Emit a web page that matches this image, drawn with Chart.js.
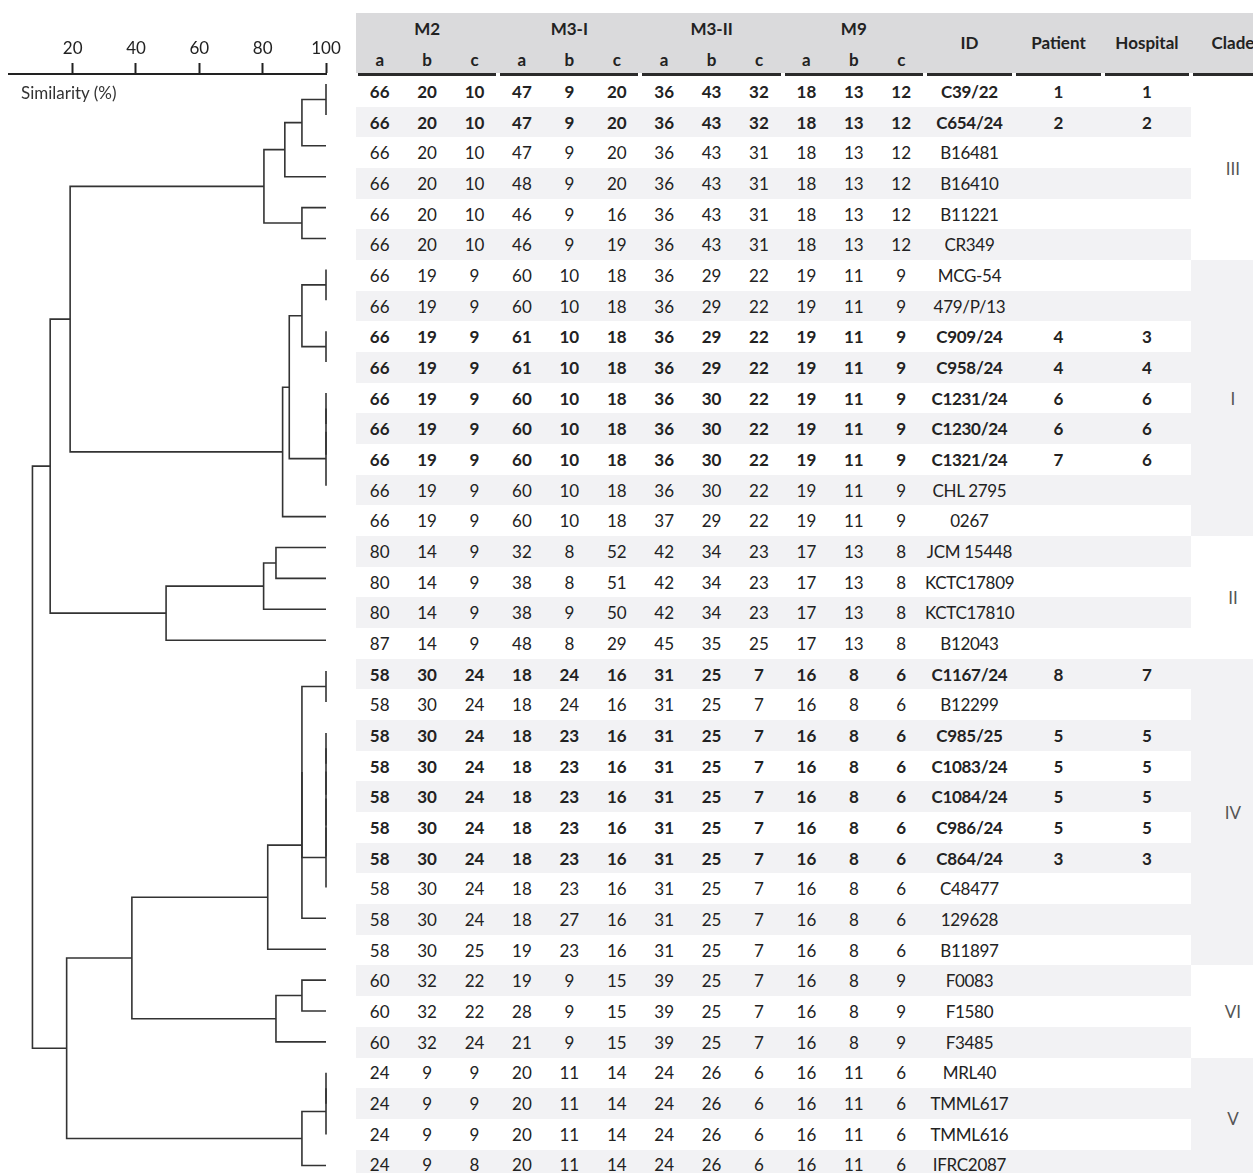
<!DOCTYPE html>
<html>
<head>
<meta charset="utf-8">
<script src="https://cdn.jsdelivr.net/npm/chart.js@4.4.1/dist/chart.umd.min.js"></script>
<style>
html, body { margin: 0; padding: 0; background: #fff; width: 1253px; height: 1173px; overflow: hidden; }
body { position: relative; font-family: Lato, "Open Sans", sans-serif; color: #222; }
#treeBox { position: absolute; left: 0; top: 0; width: 345px; height: 1173px; }
#simLabel { position: absolute; left: 21px; top: 82px; font-size: 17px; color: #333; }
#tbl { position: absolute; left: 356px; top: 12.5px; border-collapse: separate; border-spacing: 0;
       table-layout: fixed; width: 919px; font-size: 17px; }
#tbl th, #tbl td { padding: 0; text-align: center; white-space: nowrap; overflow: visible; }
#tbl thead th { background: #dadadc; font-weight: bold; }
#tbl tr.h1 { height: 31px; }
#tbl tr.h2 { height: 29.5px; }
#tbl tr.h2 th { padding-top: 2px; }
#tbl tr.rule td { height: 3px; background: #2b2b2b; border-left: 2px solid #fff; border-right: 2px solid #fff; }
#tbl tbody tr.r { height: 30.68px; }
#tbl tbody tr.r:nth-child(even) td.v { background: #f2f2f4; }
#tbl td.bold { font-weight: bold; }
#tbl td.id { letter-spacing: -0.3px; }
#tbl td.clade { color: #555; font-weight: normal; }
</style>
</head>
<body>
<div id="treeBox"><canvas id="tree" width="345" height="1173"></canvas></div>
<div id="simLabel">Similarity (%)</div>
<table id="tbl"></table>

<script>
// strains, top to bottom
const strainIds = ['C39/22', 'C654/24', 'B16481', 'B16410', 'B11221', 'CR349',
  'MCG-54', '479/P/13', 'C909/24', 'C958/24', 'C1231/24', 'C1230/24', 'C1321/24', 'CHL 2795', '0267',
  'JCM 15448', 'KCTC17809', 'KCTC17810', 'B12043',
  'C1167/24', 'B12299', 'C985/25', 'C1083/24', 'C1084/24', 'C986/24', 'C864/24', 'C48477', '129628', 'B11897',
  'F0083', 'F1580', 'F3485',
  'MRL40', 'TMML617', 'TMML616', 'IFRC2087'];

const m2 = [[66,20,10],[66,20,10],[66,20,10],[66,20,10],[66,20,10],[66,20,10],
  [66,19,9],[66,19,9],[66,19,9],[66,19,9],[66,19,9],[66,19,9],[66,19,9],[66,19,9],[66,19,9],
  [80,14,9],[80,14,9],[80,14,9],[87,14,9],
  [58,30,24],[58,30,24],[58,30,24],[58,30,24],[58,30,24],[58,30,24],[58,30,24],[58,30,24],[58,30,24],[58,30,25],
  [60,32,22],[60,32,22],[60,32,24],
  [24,9,9],[24,9,9],[24,9,9],[24,9,8]];

const m3i = [[47,9,20],[47,9,20],[47,9,20],[48,9,20],[46,9,16],[46,9,19],
  [60,10,18],[60,10,18],[61,10,18],[61,10,18],[60,10,18],[60,10,18],[60,10,18],[60,10,18],[60,10,18],
  [32,8,52],[38,8,51],[38,9,50],[48,8,29],
  [18,24,16],[18,24,16],[18,23,16],[18,23,16],[18,23,16],[18,23,16],[18,23,16],[18,23,16],[18,27,16],[19,23,16],
  [19,9,15],[28,9,15],[21,9,15],
  [20,11,14],[20,11,14],[20,11,14],[20,11,14]];

const m3ii = [[36,43,32],[36,43,32],[36,43,31],[36,43,31],[36,43,31],[36,43,31],
  [36,29,22],[36,29,22],[36,29,22],[36,29,22],[36,30,22],[36,30,22],[36,30,22],[36,30,22],[37,29,22],
  [42,34,23],[42,34,23],[42,34,23],[45,35,25],
  [31,25,7],[31,25,7],[31,25,7],[31,25,7],[31,25,7],[31,25,7],[31,25,7],[31,25,7],[31,25,7],[31,25,7],
  [39,25,7],[39,25,7],[39,25,7],
  [24,26,6],[24,26,6],[24,26,6],[24,26,6]];

const m9 = [[18,13,12],[18,13,12],[18,13,12],[18,13,12],[18,13,12],[18,13,12],
  [19,11,9],[19,11,9],[19,11,9],[19,11,9],[19,11,9],[19,11,9],[19,11,9],[19,11,9],[19,11,9],
  [17,13,8],[17,13,8],[17,13,8],[17,13,8],
  [16,8,6],[16,8,6],[16,8,6],[16,8,6],[16,8,6],[16,8,6],[16,8,6],[16,8,6],[16,8,6],[16,8,6],
  [16,8,9],[16,8,9],[16,8,9],
  [16,11,6],[16,11,6],[16,11,6],[16,11,6]];

const patients = ['1','2','','','','', '','','4','4','6','6','7','','', '','','','',
  '8','','5','5','5','5','3','','','', '','','', '','','',''];
const hospitals = ['1','2','','','','', '','','3','4','6','6','6','','', '','','','',
  '7','','5','5','5','5','3','','','', '','','', '','','',''];

const cladeNames = ['III', 'I', 'II', 'IV', 'VI', 'V'];
const cladeSizes = [6, 9, 4, 10, 3, 4];

const markers = ['M2', 'M3-I', 'M3-II', 'M9'];
const subCols = ['a', 'b', 'c'];

// dendrogram merges: [child A, child B, similarity %]; leaves are 0..35, new nodes from 36 up
const merges = [
  [0, 1, 100], [36, 2, 92.4], [37, 3, 87.0], [4, 5, 92.4], [38, 39, 80.4],
  [6, 7, 100], [8, 9, 100], [41, 42, 92.4], [10, 11, 100], [44, 12, 100], [45, 13, 100],
  [43, 46, 88.4], [47, 14, 86.3], [40, 48, 19.2],
  [15, 16, 84.2], [50, 17, 80.3], [51, 18, 49.5], [49, 52, 12.9],
  [19, 20, 100], [21, 22, 100], [55, 23, 100], [56, 24, 100], [57, 25, 100], [58, 26, 100],
  [54, 59, 92.4], [60, 27, 92.4], [61, 28, 81.6],
  [29, 30, 92.4], [63, 31, 84.2], [62, 64, 38.7],
  [32, 33, 100], [66, 34, 100], [67, 35, 92.4], [65, 68, 18.1],
  [53, 69, 7.3]
];

const axisTicks = [20, 40, 60, 80, 100];

// ---- table ----
const tbl = document.getElementById('tbl');
let html = '<colgroup>';
for (let i = 0; i < 12; i++) html += '<col style="width:47.42px">';
html += '<col style="width:89px"><col style="width:89px"><col style="width:88px"><col style="width:84px"></colgroup>';

html += '<thead><tr class="h1">';
markers.forEach(m => { html += '<th colspan="3">' + m + '</th>'; });
['ID', 'Patient', 'Hospital', 'Clade'].forEach(h => { html += '<th rowspan="2">' + h + '</th>'; });
html += '</tr><tr class="h2">';
markers.forEach(() => subCols.forEach(s => { html += '<th>' + s + '</th>'; }));
html += '</tr><tr class="rule">';
markers.forEach(() => { html += '<td colspan="3"></td>'; });
html += '<td></td><td></td><td></td><td></td></tr></thead><tbody>';

let cladeStart = [];
let acc = 0;
cladeSizes.forEach(n => { cladeStart.push(acc); acc += n; });

strainIds.forEach((id, i) => {
  const b = patients[i] !== '' ? ' bold' : '';
  html += '<tr class="r">';
  [m2, m3i, m3ii, m9].forEach(m => m[i].forEach(v => { html += '<td class="v' + b + '">' + v + '</td>'; }));
  html += '<td class="v id' + b + '">' + id + '</td>';
  html += '<td class="v' + b + '">' + patients[i] + '</td>';
  html += '<td class="v' + b + '">' + hospitals[i] + '</td>';
  const k = cladeStart.indexOf(i);
  if (k >= 0) {
    const bg = k % 2 === 1 ? '#f2f2f4' : '#fff';
    html += '<td class="clade" rowspan="' + cladeSizes[k] + '" style="background:' + bg + '">' + cladeNames[k] + '</td>';
  }
  html += '</tr>';
});
html += '</tbody>';
tbl.innerHTML = html;

// ---- dendrogram ----
const nodeY = strainIds.map((_, i) => i);
const nodeH = strainIds.map(() => 100);
const treeSets = [];
merges.forEach(([a, b, s]) => {
  treeSets.push({
    data: [{x: nodeH[a], y: nodeY[a]}, {x: s, y: nodeY[a]}, {x: s, y: nodeY[b]}, {x: nodeH[b], y: nodeY[b]}],
    borderColor: '#333',
    borderWidth: 1.6,
    showLine: true,
    pointRadius: 0,
    tension: 0,
    clip: false
  });
  nodeY.push((nodeY[a] + nodeY[b]) / 2);
  nodeH.push(s);
});

const tree = new Chart(document.getElementById('tree'), {
  type: 'scatter',
  data: { datasets: treeSets },
  options: {
    responsive: false,
    animation: false,
    events: [],
    layout: { padding: { left: 9.33, right: 19, top: 0, bottom: 0 } },
    plugins: { legend: { display: false }, tooltip: { enabled: false } },
    scales: {
      x: {
        type: 'linear',
        position: 'top',
        min: 0,
        max: 100,
        afterBuildTicks: s => { s.ticks = axisTicks.map(v => ({ value: v })); },
        afterFit: s => { s.height = 74; },
        ticks: { color: '#222', font: { family: 'Lato', size: 17 }, padding: 4, maxRotation: 0 },
        grid: { drawOnChartArea: false, drawTicks: true, tickLength: 11, tickWidth: 2, tickColor: '#222' },
        border: { display: true, color: '#222', width: 2 }
      },
      y: {
        type: 'linear',
        display: false,
        reverse: true,
        min: -10 / 30.9,
        max: (1173 - 84) / 30.9
      }
    }
  }
});
</script>
</body>
</html>
